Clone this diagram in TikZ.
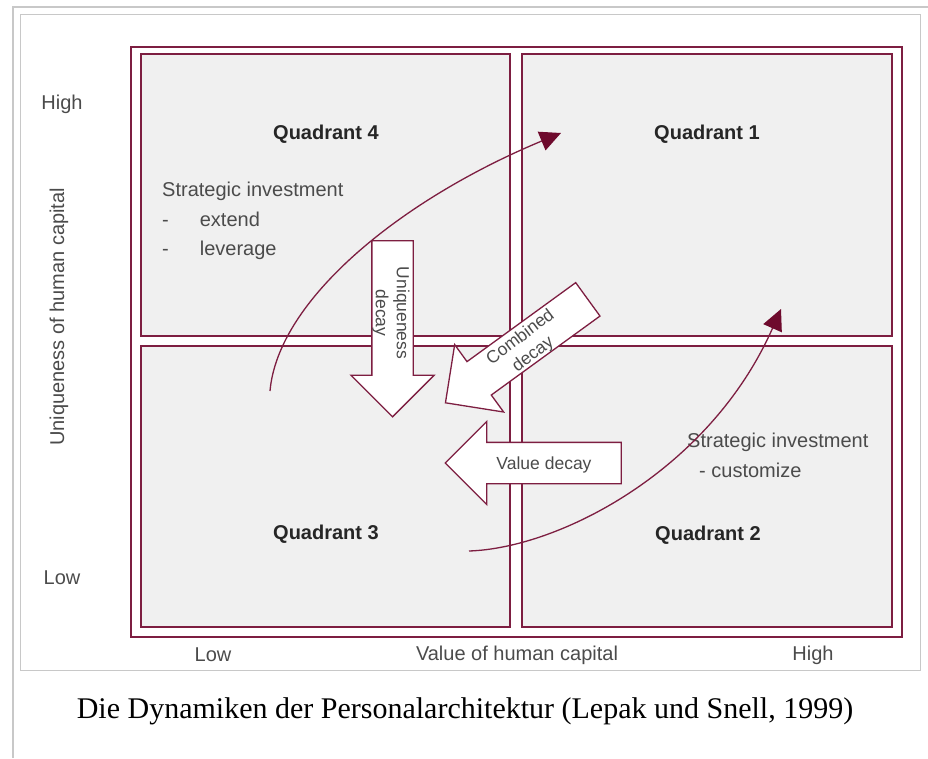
\documentclass[tikz,border=0pt]{standalone}
\usepackage{fontspec}
\setmainfont{Liberation Sans}
\newfontfamily\captionserif{Liberation Serif}
\usetikzlibrary{shapes.arrows,arrows.meta}
\definecolor{lsmaroon}{RGB}{125,30,65}
\definecolor{lsdark}{RGB}{110,10,45}
\definecolor{quadgrey}{RGB}{240,240,240}
\definecolor{labelgrey}{RGB}{75,75,75}
\definecolor{framegrey}{RGB}{200,200,200}

\begin{document}
\begin{tikzpicture}[x=1pt,y=-1pt,
    quad/.style={draw=lsmaroon, line width=1.5pt, fill=quadgrey},
    lbl/.style={text=labelgrey, font=\fontsize{20}{24}\selectfont, inner sep=0pt},
    qlbl/.style={text=black!85, font=\fontsize{20}{24}\selectfont\bfseries, inner sep=0pt},
    decay/.style={single arrow, draw=lsmaroon, fill=white, line width=1.3pt, minimum height=176pt,
      inner xsep=0pt, inner ysep=20pt, single arrow head extend=21pt},
    decaytxt/.style={text=labelgrey, font=\fontsize{17.5}{21}\selectfont, align=center, inner sep=0pt},
    growth/.style={draw=lsmaroon, line width=1.3pt, -{Triangle[length=21pt,width=20pt,color=lsdark]}}]
    \useasboundingbox (0,0) rectangle (928,758);
    % frames
    \draw[framegrey, line width=2pt] (13,758) -- (13,7) -- (928,7);
    \draw[framegrey, line width=1pt] (20,14) rectangle (920,670);
    % quadrants
    \draw[draw=lsmaroon, line width=1.8pt] (131,47) rectangle (902,637);
    \draw[quad] (141,54) rectangle (510,336);
    \draw[quad] (522,54) rectangle (892,336);
    \draw[quad] (141,346) rectangle (510,627);
    \draw[quad] (522,346) rectangle (892,627);
    \node[qlbl] (q4) at (326,134) {Quadrant 4};
    \node[qlbl] (q1) at (707,134) {Quadrant 1};
    \node[qlbl] (q3) at (326,534) {Quadrant 3};
    \node[qlbl] (q2) at (708,535) {Quadrant 2};
    \node[lbl, anchor=mid west] (inv4) at (162,194) {Strategic investment};
    \node[lbl, anchor=mid west] (ext) at (162,224) {-\hspace{31pt}extend};
    \node[lbl, anchor=mid west] (lev) at (162,253) {-\hspace{31pt}leverage};
    \node[lbl, anchor=mid west] (inv2) at (687,445) {Strategic investment};
    \node[lbl, anchor=mid west] (cust) at (699,475) {- customize};
    % investment curves
    \coordinate (up0) at (270,391);
    \coordinate (up1) at (561,133);
    \draw[growth] (up0) .. controls (278,300) and (400,200) .. (up1);
    \coordinate (lo0) at (469,551);
    \coordinate (lo1) at (781,309);
    \draw[growth] (lo0) .. controls (560,548) and (710,470) .. (lo1);
    % decay arrows
    \node[decay, rotate=-90] (udecay) at (392.5,318.5) {};
    \node[decay, rotate=36, shape border rotate=180] (cdecay) at (525,345) {};
    \node[decay, shape border rotate=180] (vdecay) at (543.5,463) {};
    \node[decaytxt, rotate=-90] (utxt) at (391,313) {Uniqueness\\decay};
    \node[decaytxt, rotate=37] (ctxt) at (527,346) {Combined\\decay};
    \node[decaytxt] (vtxt) at (544,465) {Value decay};
    % axes
    \node[lbl] (yhigh) at (62,104) {High};
    \node[lbl] (ylow) at (62,578) {Low};
    \node[lbl, rotate=90] (ytitle) at (59,317) {Uniqueness of human capital};
    \node[lbl] (xlow) at (213,655) {Low};
    \node[lbl] (xtitle) at (517,655) {Value of human capital};
    \node[lbl] (xhigh) at (813,655) {High};
    \node[font=\captionserif\fontsize{30}{36}\selectfont, inner sep=0pt] (caption) at (465,711)
      {Die Dynamiken der Personalarchitektur (Lepak und Snell, 1999)};
\end{tikzpicture}
\end{document}
